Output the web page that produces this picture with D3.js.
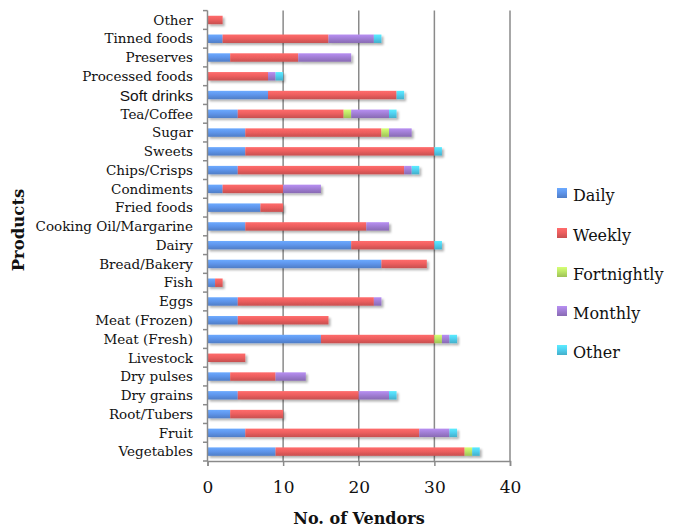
<!DOCTYPE html>
<html>
<head>
<meta charset="utf-8">
<script src="https://cdn.jsdelivr.net/npm/d3@7"></script>
<style>
  html, body { margin: 0; padding: 0; background: #fff; }
  svg { display: block; }
</style>
</head>
<body>
<svg id="chart" width="684" height="528"></svg>
<script>
// Categories top to bottom
const categories = ["Other", "Tinned foods", "Preserves", "Processed foods", "Soft drinks",
  "Tea/Coffee", "Sugar", "Sweets", "Chips/Crisps", "Condiments", "Fried foods",
  "Cooking Oil/Margarine", "Dairy", "Bread/Bakery", "Fish", "Eggs", "Meat (Frozen)",
  "Meat (Fresh)", "Livestock", "Dry pulses", "Dry grains", "Root/Tubers", "Fruit", "Vegetables"];

const seriesNames = ["Daily", "Weekly", "Fortnightly", "Monthly", "Other"];

const daily       = [0, 2, 3, 0, 8, 4, 5, 5, 4, 2, 7, 5, 19, 23, 1, 4, 4, 15, 0, 3, 4, 3, 5, 9];
const weekly      = [2, 14, 9, 8, 17, 14, 18, 25, 22, 8, 3, 16, 11, 6, 1, 18, 12, 15, 5, 6, 16, 7, 23, 25];
const fortnightly = [0, 0, 0, 0, 0, 1, 1, 0, 0, 0, 0, 0, 0, 0, 0, 0, 0, 1, 0, 0, 0, 0, 0, 1];
const monthly     = [0, 6, 7, 1, 0, 5, 3, 0, 1, 5, 0, 3, 0, 0, 0, 1, 0, 1, 0, 4, 4, 0, 4, 0];
const other       = [0, 1, 0, 1, 1, 1, 0, 1, 1, 0, 0, 0, 1, 0, 0, 0, 0, 1, 0, 0, 1, 0, 1, 1];

const xTicks = [0, 10, 20, 30, 40];
const colors = ["#5a8ee0", "#e25a5a", "#b3db62", "#9a78cb", "#4cc6e4"];

(function () {
const rows = categories.map((c, i) => ({
  cat: c, Daily: daily[i], Weekly: weekly[i], Fortnightly: fortnightly[i],
  Monthly: monthly[i], Other: other[i]
}));

const svg = d3.select("#chart");
const pLeft = 207.5, pRight = 510, pTop = 10.6, pBottom = 461;

const x = d3.scaleLinear().domain([0, 40]).range([pLeft, pRight]);
const y = d3.scaleBand().domain(categories).range([pTop, pBottom]).paddingInner(0.55).paddingOuter(0.275);

const defs = svg.append("defs");
colors.forEach((c, i) => {
  const g = defs.append("linearGradient").attr("id", "g" + i)
    .attr("x1", 0).attr("y1", 0).attr("x2", 0).attr("y2", 1);
  const col = d3.color(c);
  g.append("stop").attr("offset", "0%").attr("stop-color", col.brighter(0.5));
  g.append("stop").attr("offset", "45%").attr("stop-color", col.brighter(0.15));
  g.append("stop").attr("offset", "100%").attr("stop-color", col.darker(0.35));
});
const f = defs.append("filter").attr("id", "shadow")
  .attr("x", "-5%").attr("y", "-50%").attr("width", "120%").attr("height", "250%");
f.append("feDropShadow").attr("dx", 2).attr("dy", 2).attr("stdDeviation", 1.3)
  .attr("flood-color", "#000").attr("flood-opacity", 0.3);

// Gridlines
svg.append("g").selectAll("line").data(xTicks.filter(t => t > 0)).join("line")
  .attr("x1", d => x(d)).attr("x2", d => x(d))
  .attr("y1", pTop).attr("y2", pBottom)
  .attr("stroke", "#8a8a8a").attr("stroke-width", 1.5);

// Bars
const stack = d3.stack().keys(seriesNames)(rows);
const gBars = svg.append("g").attr("filter", "url(#shadow)");
stack.forEach((layer, si) => {
  gBars.append("g").selectAll("rect").data(layer.filter(d => d[1] > d[0])).join("rect")
    .attr("x", d => x(d[0]))
    .attr("width", d => x(d[1]) - x(d[0]))
    .attr("y", d => y(d.data.cat))
    .attr("height", y.bandwidth())
    .attr("fill", "url(#g" + si + ")");
});

// Axes
const xAxis = d3.axisBottom(x).tickValues(xTicks).tickSize(5).tickPadding(15);
const gx = svg.append("g").attr("transform", `translate(0,${pBottom})`).call(xAxis);
gx.select(".domain").attr("stroke", "#8a8a8a").attr("stroke-width", 1.5);
gx.selectAll(".tick line").attr("stroke", "#8a8a8a").attr("stroke-width", 1.5);
gx.selectAll(".tick text").attr("font-family", "DejaVu Serif").attr("font-size", 17)
  .attr("fill", "#111");

// Left axis line & ticks at band boundaries
svg.append("line").attr("x1", pLeft).attr("x2", pLeft).attr("y1", pTop).attr("y2", pBottom)
  .attr("stroke", "#8a8a8a").attr("stroke-width", 1.5);
const step = y.step();
svg.append("g").selectAll("line").data(d3.range(categories.length + 1)).join("line")
  .attr("x1", pLeft - 4.5).attr("x2", pLeft)
  .attr("y1", d => pTop + d * step).attr("y2", d => pTop + d * step)
  .attr("stroke", "#8a8a8a").attr("stroke-width", 1.5);

// Category labels
svg.append("g").selectAll("text").data(categories).join("text")
  .attr("x", 193)
  .attr("y", d => y(d) + y.bandwidth() / 2 + (d === "Soft drinks" ? 1 : 0))
  .attr("dy", "0.35em")
  .attr("text-anchor", "end")
  .attr("font-family", d => d === "Soft drinks" ? "Liberation Sans" : "DejaVu Serif")
  .attr("font-size", d => d === "Soft drinks" ? 15.5 : 13.5)
  .attr("fill", "#111")
  .text(d => d);

// Axis titles
svg.append("text").attr("x", 359).attr("y", 524).attr("text-anchor", "middle")
  .attr("font-family", "DejaVu Serif").attr("font-weight", "bold").attr("font-size", 16)
  .attr("fill", "#111").text("No. of Vendors");
svg.append("text").attr("transform", "translate(24,230) rotate(-90)")
  .attr("text-anchor", "middle")
  .attr("font-family", "DejaVu Serif").attr("font-weight", "bold").attr("font-size", 16.5)
  .attr("fill", "#111").text("Products");

// Legend
const legY = [195, 235, 274, 313, 352];
const leg = svg.append("g");
seriesNames.forEach((s, i) => {
  leg.append("rect").attr("x", 557).attr("y", legY[i] - 7).attr("width", 10).attr("height", 10)
    .attr("fill", "url(#g" + i + ")");
  leg.append("text").attr("x", 573).attr("y", legY[i]).attr("dy", "0.35em")
    .attr("font-family", "DejaVu Serif").attr("font-size", 16).attr("fill", "#111").text(s);
});
})();
</script>
</body>
</html>
